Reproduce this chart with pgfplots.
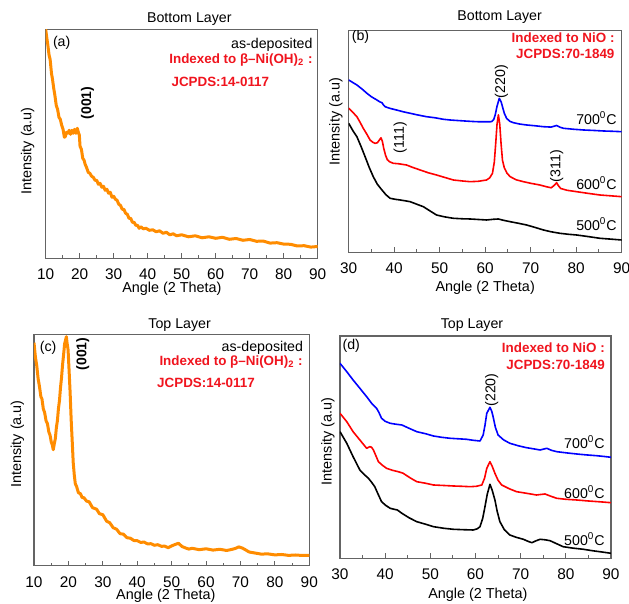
\documentclass[border=0pt]{standalone}
\usepackage{fontspec}
\setmainfont{Liberation Sans}
\usepackage{pgfplots}
\pgfplotsset{compat=1.18}

\definecolor{xrdorange}{RGB}{255,140,0}
\definecolor{framegray}{RGB}{100,100,100}
\definecolor{idxred}{RGB}{240,20,30}

\pgfplotsset{
  xrd/.style={
    scale only axis,
    axis line style={framegray, line width=0.55pt},
    ytick=\empty,
    xtick pos=bottom,
    tick align=inside,
    minor x tick num=1,
    major tick length=2.5pt,
    minor tick length=1.4pt,
    tick style={framegray, line width=0.5pt},
    ticklabel style={font=\fontsize{7.7}{8}\selectfont},
    xticklabel style={yshift=-1.8pt},
    /pgf/number format/assume math mode=true,
    label style={font=\fontsize{7.2}{8}\selectfont},
    every axis title/.style={font=\fontsize{7.1}{8}\selectfont, anchor=base},
    xlabel={Angle (2 Theta)},
    ylabel={Intensity (a.u)},
    xlabel style={anchor=center},
    ylabel style={anchor=center},
    ymin=0,
  },
}
\tikzset{
  ann/.style={font=\fontsize{7.1}{8}\selectfont, inner sep=0pt},
  idx/.style={ann, text=idxred, font=\fontsize{6.7}{8}\selectfont\bfseries},
  hkl/.style={ann, rotate=90},
  hklb/.style={hkl, font=\fontsize{7}{8}\selectfont\bfseries},
  tl/.style={ann, anchor=east},
}

\begin{document}
\begin{tikzpicture}
\path[use as bounding box] (0,0) rectangle (314.5pt,302pt);

% (a) bottom layer, as-deposited
\begin{axis}[xrd, at={(22.85pt,172.85pt)}, anchor=south west,
  width=136pt, height=114.5pt, xmin=10, xmax=90, ymax=229,
  xtick={10,20,...,90},
  title={Bottom Layer}, title style={at={(axis description cs:0.528,1.031)}},
  xlabel style={at={(axis description cs:0.464,-0.135)}},
  ylabel style={at={(axis description cs:-0.066,0.469)}}]
\addplot[xrdorange, line width=1.5pt, line join=round] coordinates {
(10.0,229) (10.3,221) (10.6,214) (11.0,203) (11.3,199) (11.7,185) (12.0,179)
(12.4,169) (12.7,163) (13.1,153) (13.5,149) (13.9,141) (14.3,139) (14.7,133)
(15.1,129) (15.5,121) (15.8,122) (16.1,126) (16.5,125) (16.9,128) (17.3,124)
(17.7,128) (18.1,125) (18.5,129) (18.9,125) (19.3,130) (19.6,126) (19.9,123)
(20.1,112) (20.5,109) (20.9,100) (21.3,98) (21.6,94) (22.0,91) (22.5,86)
(23.0,85) (23.5,82) (24.0,81) (24.5,78) (25.0,78) (25.5,74) (26.0,75)
(26.5,71) (27.0,72) (27.5,68) (28.0,69) (28.5,65) (29.0,66) (29.5,61)
(30.0,62) (30.5,59) (31.0,58) (31.5,54) (32.0,53) (32.5,49) (33.0,49)
(33.5,45) (34.0,44) (34.5,40) (35.0,40) (35.5,36) (36.0,36) (36.5,33)
(37.0,33) (37.5,30) (38.0,31.5) (38.7,29.5) (39.5,30) (40.5,28) (41.5,28.5)
(42.5,26.5) (43.5,27.5) (44.5,25) (45.5,26) (46.5,23.5) (47.5,24.5) (48.5,22.5)
(50,23.5) (52,21.5) (54,22.5) (56,20.5) (58,21.5) (60,20) (62,21)
(64,19) (66,19.8) (68,18) (70,18.8) (72,17) (74,17.2) (76,15.2)
(78,15.6) (80,14.2) (82,14) (84,12.3) (86,12.6) (88,11.2) (90,11.8)
};
\node[ann] at (axis cs:14.7,215.8) {(a)};
\node[tl] at (axis cs:88.6,213.3) {as-deposited};
\node[idx, anchor=east] at (axis cs:88.6,198.3) {Indexed to β–Ni(OH)\textsubscript{2} :};
\node[idx, anchor=west] at (axis cs:46.9,176.3) {JCPDS:14-0117};
\node[hklb] at (axis cs:22.3,155.3) {(001)};
\end{axis}

% (b) bottom layer, annealed
\begin{axis}[xrd, at={(174.35pt,175.85pt)}, anchor=south west,
  width=136.5pt, height=110.8pt, xmin=30, xmax=90, ymax=221.6,
  xtick={30,40,...,90},
  title={Bottom Layer}, title style={at={(axis description cs:0.553,1.044)}},
  xlabel style={at={(axis description cs:0.5,-0.162)}},
  ylabel style={at={(axis description cs:-0.0465,0.589)}}]
\addplot[blue, line width=0.8pt, line join=round] coordinates {
(30,172.3) (31,169.5) (31.8,167.3) (33,163) (34,159) (35,155.5) (36.2,152.3)
(36.8,150.5) (37.3,149.6) (37.7,147) (38,145.6) (39,144) (40.5,142.3) (42,140.5)
(43.5,139) (45,137.5) (47.1,135.6) (49,134.5) (50.8,133) (52.5,132.2) (54.5,131.6)
(56.5,131) (58.1,130.6) (60,130.5) (61.4,130.6) (61.9,133) (62.2,137.3) (62.6,146)
(63.1,154) (63.5,150.5) (63.8,145.6) (64.2,139) (64.7,134) (65.4,131) (66.2,129.6)
(67.5,128.3) (69.1,127.3) (71,126.5) (72.8,125.6) (74.5,125.2) (75.7,126.8) (76.5,125)
(77.2,124) (79.5,123) (81.6,122.3) (84,121.8) (86,121.3) (88,121) (90,120.6)
};
\addplot[red, line width=0.8pt, line join=round] coordinates {
(30,144) (31,139.5) (31.8,135.6) (32.5,130) (33.2,124) (34,118) (34.7,112.3)
(35.3,110) (35.8,109) (36.3,109.5) (36.7,112) (37.1,114.5) (37.4,111) (37.7,104)
(38.1,97) (38.5,92.5) (39,90.5) (39.8,89) (41,88.5) (42.7,87.3) (44,85)
(45.7,82.3) (47.5,79.5) (49.3,77.3) (51,75) (53,72.3) (55,71.3) (56.7,70.6)
(58.5,71) (60.3,72.3) (61,74.5) (61.6,79) (62,90) (62.3,108) (62.6,128)
(62.9,137.5) (63.2,128) (63.5,108) (63.8,92) (64.2,84.5) (64.8,79) (65.5,75.6)
(66.8,72.5) (68.4,70.6) (70,69) (72,67.3) (73.5,65.5) (74.5,64.5) (75.2,67)
(75.7,69.6) (76.1,66.5) (76.6,63.8) (78,62) (80.1,60.6) (82.5,59) (85.2,57.3)
(87.5,56.5) (90,55.6)
};
\addplot[black, line width=0.8pt, line join=round] coordinates {
(30,129) (31,121) (31.8,115.6) (32.7,106) (33.6,95.6) (34.5,85) (35.4,75.6)
(36.3,68) (37.3,62.3) (38.2,57.5) (39.1,54) (40.2,53) (41.3,52.3) (42.4,51.5)
(43.5,50.6) (45,48) (46.4,45.6) (48,41) (49.3,37.3) (51,35.5) (53,34)
(55,33.5) (56.7,33.3) (58.5,32.8) (60.3,32.3) (61.8,33) (62.9,33.3) (64,32)
(65.5,30.6) (67.3,29) (69.1,27.3) (71,24.8) (72.8,22.3) (74.5,20.5) (76.4,19)
(78.3,18) (80.1,17.3) (82.5,15.8) (85.2,14) (87.5,13.2) (90,12.3)
};
\node[ann] at (axis cs:32.6,215.6) {(b)};
\node[idx, anchor=east] at (axis cs:88.5,214.8) {Indexed to NiO :};
\node[idx, anchor=east] at (axis cs:88.5,198.3) {JCPDS:70-1849};
\node[hkl] at (axis cs:63.6,170.6) {(220)};
\node[hkl] at (axis cs:41.3,114.8) {(111)};
\node[hkl] at (axis cs:75.7,86.3) {(311)};
\node[tl] at (axis cs:89,134.3) {700\textsuperscript{0}C};
\node[tl] at (axis cs:89,69.3) {600\textsuperscript{0}C};
\node[tl] at (axis cs:89,28.3) {500\textsuperscript{0}C};
\end{axis}

% (c) top layer, as-deposited
\begin{axis}[xrd, at={(17pt,19.15pt)}, anchor=south west,
  width=137.65pt, height=115.7pt, xmin=10, xmax=90, ymax=231.4,
  xtick={10,20,...,90},
  title={Top Layer}, title style={at={(axis description cs:0.529,1.023)}},
  xlabel style={at={(axis description cs:0.479,-0.13)}},
  ylabel style={at={(axis description cs:-0.06,0.526)}}]
\addplot[xrdorange, line width=1.5pt, line join=round] coordinates {
(10.0,223) (10.4,209) (10.8,200) (11.2,187) (11.6,179) (12.0,169) (12.3,167)
(12.7,157) (13.1,153) (13.5,145) (13.9,142) (14.3,134) (14.7,130) (15.0,124)
(15.3,121) (15.6,116) (15.9,122) (16.2,127) (16.5,138) (16.8,145) (17.1,157)
(17.4,165) (17.7,178) (18.0,188) (18.3,201) (18.6,211) (18.9,222) (19.2,226)
(19.4,229) (19.6,223) (19.9,216) (20.2,195) (20.5,173) (20.8,146) (21.1,125)
(21.4,103) (21.7,91) (22.0,82) (22.4,79) (22.9,73) (23.5,72) (24.0,68)
(24.5,68) (25.3,64.5) (26,64) (27,58) (28.2,56.5) (29,52) (30,51)
(31.1,44.5) (32,43) (33,38) (34,36.5) (35,32) (36,31.5) (37,28)
(38,27.5) (39,25.2) (40,25) (41,23.3) (42,23.6) (43,21.8) (44,22)
(45,20.4) (46,21) (47,19.4) (48,19.5) (49,18) (50,19.8) (51,21.2)
(52,22.4) (53,19.2) (54,17.8) (55,16.6) (56,17.4) (58,16) (60,16.9)
(62,15.6) (64,16.4) (66,15.2) (67.5,16.3) (68.5,17.2) (69.5,18.8) (70.5,17.7)
(71.5,15.8) (72.5,13.7) (74,12.8) (76,11.6) (78,11.8) (80,10.8) (82,11.2)
(84,10.3) (86,10.7) (88,10.2) (90,10.4)
};
\node[ann] at (axis cs:14.1,218.2) {(c)};
\node[tl] at (axis cs:88.3,217.4) {as-deposited};
\node[idx, anchor=east] at (axis cs:88.2,204) {Indexed to β–Ni(OH)\textsubscript{2} :};
\node[idx, anchor=west] at (axis cs:45.7,183.2) {JCPDS:14-0117};
\node[hklb] at (axis cs:24.2,211.7) {(001)};
\end{axis}

% (d) top layer, annealed
\begin{axis}[xrd, at={(170pt,22.85pt)}, anchor=south west,
  width=135.5pt, height=111.15pt, xmin=30, xmax=90, ymax=222.3,
  xtick={30,40,...,90},
  title={Top Layer}, title style={at={(axis description cs:0.487,1.034)}},
  xlabel style={at={(axis description cs:0.509,-0.162)}},
  ylabel style={at={(axis description cs:-0.0443,0.525)}}]
\addplot[blue, line width=0.8pt, line join=round] coordinates {
(30,195) (31.5,186.6) (32.9,178.3) (34.4,170) (35.9,161.6) (37,155) (38.1,150)
(38.6,146) (39.2,140) (40,137) (41.1,135) (42.5,134) (43.7,133.3) (45.3,130)
(47,126.6) (49,124.5) (50.7,122.3) (52.5,121) (54.4,120) (56.2,119.5) (58,119)
(59.5,118) (61,117.3) (61.7,123.3) (62.1,133) (62.5,145) (63.2,151) (63.6,147)
(63.9,141.6) (64.4,131) (65,123.3) (66.2,118.5) (67.6,115) (69.5,112.5) (71.3,110.6)
(72.8,109.5) (74.3,108.3) (75.8,110) (76.8,108) (78,106.6) (80,105.5) (82.4,104.3)
(84.5,103.4) (86.8,102.6) (88.5,101.8) (90,101)
};
\addplot[red, line width=0.8pt, line join=round] coordinates {
(30,145) (31.5,136.6) (32.9,126.6) (34.4,118.3) (35.9,110) (36.6,111.6) (37.0,111)
(37.4,108.3) (38,102) (38.5,96.6) (39.4,93) (40.3,90) (41.6,88) (42.9,86.6)
(44,85) (45.5,80.5) (47,76.6) (49,75) (50.7,73.3) (53,72.8) (55.1,72.3)
(57,72) (58.8,71.6) (60.2,72) (61.4,73.3) (62,80) (62.5,90) (63.2,96.6)
(63.7,92) (64.3,85) (65,78) (65.8,73.3) (67.5,69.5) (69.1,66.6) (71.3,65)
(73.5,63.3) (75.4,64.3) (76.7,62) (78,60) (80,59) (82.4,58.3) (85,57.3)
(87.5,56.5) (90,55.6)
};
\addplot[black, line width=0.8pt, line join=round] coordinates {
(30,126.6) (31.5,115) (32.9,101.6) (34.4,88.3) (35.3,84) (36.3,80) (37,76)
(37.7,71.6) (38.5,63.5) (39.2,56.6) (40.1,53) (41.1,50) (42,49) (42.7,48.3)
(43.7,45) (45.3,40.5) (47,36.6) (49,34) (50.7,31.6) (53,30) (55.1,29)
(57.3,28.6) (59.5,28.3) (60.4,29.5) (61,31.6) (61.6,40) (62.1,51.6) (62.6,64)
(63.2,74) (63.7,68) (64.3,58.3) (64.8,47) (65.4,36.6) (66.4,28.5) (67.6,23.3)
(69,21) (70.6,19) (71.6,17) (72.5,15.6) (73.4,17.5) (74.3,19) (75.4,18.5)
(76.5,17.6) (78,14.5) (79.4,11.6) (81.5,10.2) (83.9,9) (86,7.5) (88,6.3)
(90,5)
};
\node[ann] at (axis cs:32.5,212.3) {(d)};
\node[idx, anchor=east] at (axis cs:88.7,210.8) {Indexed to NiO :};
\node[idx, anchor=east] at (axis cs:88.7,193.3) {JCPDS:70-1849};
\node[hkl] at (axis cs:63.6,168.3) {(220)};
\node[tl] at (axis cs:88.7,115.8) {700\textsuperscript{0}C};
\node[tl] at (axis cs:88.7,66.6) {600\textsuperscript{0}C};
\node[tl] at (axis cs:88.7,19.3) {500\textsuperscript{0}C};
\end{axis}
\end{tikzpicture}
\end{document}
